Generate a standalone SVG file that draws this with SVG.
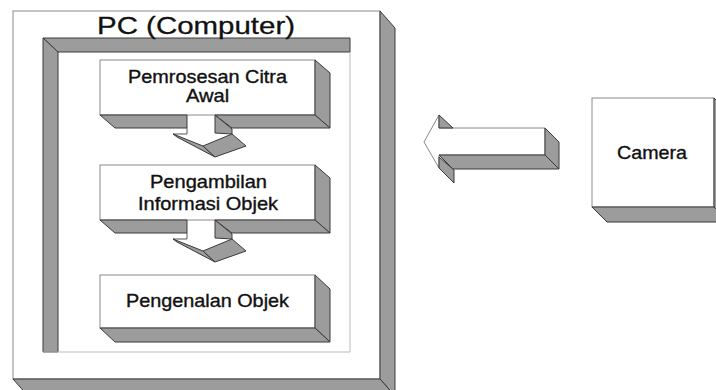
<svg xmlns="http://www.w3.org/2000/svg" width="716" height="390" viewBox="0 0 716 390">
<style>
.face{fill:#ffffff;stroke:#8a8a8a;stroke-width:1}
.side{fill:#9c9c9c;stroke:#3a3a3a;stroke-width:1;stroke-linejoin:round}
.edge{fill:none;stroke:#555;stroke-width:1}
.lbl{font-family:"Liberation Sans",Arial,sans-serif;fill:#111;stroke:#111;stroke-width:0.35;font-size:17.5px}
.ttl{font-family:"Liberation Sans",Arial,sans-serif;fill:#111;stroke:#111;stroke-width:0.3;font-size:24px}
</style>
<rect width="716" height="390" fill="#fff"/>
<g id="pc">
<rect class="face" x="13" y="11" width="367" height="368"/>
<polygon class="side" points="380,11 395,28 395,396 380,379"/>
<polygon class="side" points="13,379 28,396 395,396 380,379"/>
<polygon class="side" points="43,38 350,38 350,52 58,52"/>
<polygon class="side" points="43,38 58,52 58,352 43,352"/>
<polyline points="350,52 350,352 43,352" fill="none" stroke="#bbb"/>
<text class="ttl" transform="translate(97,34) scale(1.2,1)" x="0" y="0" textLength="165" lengthAdjust="spacingAndGlyphs">PC (Computer)</text>
</g>
<g id="box1">
<rect class="face" x="100" y="60" width="215" height="55"/>
<polygon class="side" points="315,60 330,73 330,128 315,115"/>
<polygon class="side" points="100,115 187,115 187,128 115,128"/>
<polygon class="side" points="215,115 315,115 330,128 232,128"/>
<text class="lbl" transform="translate(128,83) scale(1.2,1)" x="0" y="0" textLength="132.5" lengthAdjust="spacingAndGlyphs">Pemrosesan Citra</text>
<text class="lbl" transform="translate(186,102) scale(1.2,1)" x="0" y="0" textLength="36" lengthAdjust="spacingAndGlyphs">Awal</text>
</g>
<g id="box2">
<rect class="face" x="100" y="165" width="215" height="55"/>
<polygon class="side" points="315,165 330,178 330,233 315,220"/>
<polygon class="side" points="100,220 187,220 187,233 115,233"/>
<polygon class="side" points="215,220 315,220 330,233 232,233"/>
<text class="lbl" transform="translate(150,188) scale(1.2,1)" x="0" y="0" textLength="97.5" lengthAdjust="spacingAndGlyphs">Pengambilan</text>
<text class="lbl" transform="translate(138,210) scale(1.2,1)" x="0" y="0" textLength="116.7" lengthAdjust="spacingAndGlyphs">Informasi Objek</text>
</g>
<g id="box3">
<rect class="face" x="100" y="275" width="215" height="53"/>
<polygon class="side" points="315,275 330,289 330,342 315,328"/>
<polygon class="side" points="100,328 115,342 330,342 315,328"/>
<text class="lbl" transform="translate(126,307) scale(1.2,1)" x="0" y="0" textLength="135.8" lengthAdjust="spacingAndGlyphs">Pengenalan Objek</text>
</g>
<g id="camera">
<rect class="face" x="592" y="98" width="122" height="109"/>
<polygon class="side" points="714,98 729,113 729,222 714,207"/>
<polygon class="side" points="592,207 607,222 729,222 714,207"/>
<text class="lbl" transform="translate(617,159) scale(1.2,1)" x="0" y="0" textLength="58.3" lengthAdjust="spacingAndGlyphs">Camera</text>
</g>
<g id="connectors">
<g id="arrow1">
<polygon class="side" points="215,115 232,129 232,134 215,133"/>
<polyline class="edge" points="187,128 187,134 173,134"/>
<polygon class="side" points="173,134 203,146 215,157 177,137"/>
<polygon class="side" points="203,146 232,134 246,146 215,157"/>
</g>
<g id="arrow2" transform="translate(0,105)">
<polygon class="side" points="215,115 232,129 232,134 215,133"/>
<polyline class="edge" points="187,128 187,134 173,134"/>
<polygon class="side" points="173,134 203,146 215,157 177,137"/>
<polygon class="side" points="203,146 232,134 246,146 215,157"/>
</g>
<g id="arrow3">
<polygon points="439,115 439,128 545,128 545,155 439,155 439,168 424,142" fill="#fff" stroke="#888"/>
<polygon class="side" points="439,115 453,128 439,128"/>
<polygon class="side" points="545,128 559,142 559,169 545,155"/>
<polygon class="side" points="439,155 545,155 559,169 453,169"/>
<polygon class="side" points="439,157 454,170 454,183 439,168"/>
</g>
</g>
</svg>
